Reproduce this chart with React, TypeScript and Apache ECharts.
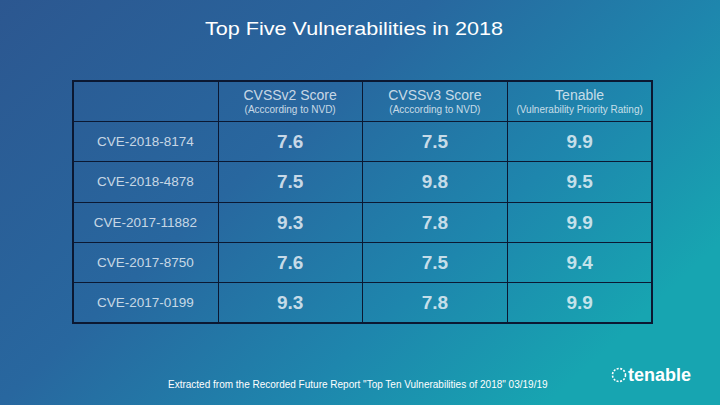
import React, { useEffect, useRef } from "react";
import * as echarts from "echarts";

const columnKeys = ["name", "v2", "v3", "vpr"];
const headerTitles = ["", "CVSSv2 Score", "CVSSv3 Score", "Tenable"];
const headerSubtitles = ["", "(Acccording to NVD)", "(Acccording to NVD)", "(Vulnerability Priority Rating)"];
const cves = ["CVE-2018-8174", "CVE-2018-4878", "CVE-2017-11882", "CVE-2017-8750", "CVE-2017-0199"];
const cvssV2 = [7.6, 7.5, 9.3, 7.6, 9.3];
const cvssV3 = [7.5, 9.8, 7.8, 7.5, 7.8];
const tenableVpr = [9.9, 9.5, 9.9, 9.4, 9.9];

const titleText = "Top Five Vulnerabilities in 2018";
const footerText = 'Extracted from the Recorded Future Report "Top Ten Vulnerabilities of 2018" 03/19/19';
const logoText = "tenable";

const FONT = "'Liberation Sans', Arial, sans-serif";
const LINE = "#0b1832";

export default function App() {
  const ref = useRef<HTMLDivElement>(null);
  useEffect(() => {
    if (!ref.current) return;
    const chart = echarts.init(ref.current, undefined, { renderer: "svg" });
    const rows = ["header", ...cves];

    const headerData = headerTitles
      .map((t, c) => ({ value: [columnKeys[c], "header"], name: t, sub: headerSubtitles[c] }))
      .filter((d) => d.name !== "");
    const nameData = cves.map((n) => ({ value: [columnKeys[0], n], name: n }));
    const valueData: any[] = [];
    [cvssV2, cvssV3, tenableVpr].forEach((arr, ci) => {
      arr.forEach((v, ri) => {
        valueData.push({ value: [columnKeys[ci + 1], cves[ri]], name: v.toFixed(1) });
      });
    });

    const baseScatter = {
      type: "scatter",
      symbolSize: 1,
      itemStyle: { color: "rgba(0,0,0,0)" },
      silent: true,
    };

    chart.setOption({
      animation: false,
      graphic: [
        {
          type: "rect",
          z: -10,
          shape: { x: 0, y: 0, width: 720, height: 405 },
          style: {
            fill: new echarts.graphic.LinearGradient(0, 0, 1, 0.6, [
              { offset: 0, color: "#2c5790" },
              { offset: 0.44, color: "#28679f" },
              { offset: 0.74, color: "#1e86ad" },
              { offset: 1, color: "#17a5b1" },
            ]),
          },
        },
        {
          type: "text",
          x: 354,
          y: 29,
          scaleX: 1.2,
          style: {
            text: titleText,
            fontSize: 18,
            fontFamily: FONT,
            fill: "#ffffff",
            textAlign: "center",
            textVerticalAlign: "middle",
          },
        },
        {
          type: "text",
          x: 168,
          y: 384,
          style: {
            text: footerText,
            fontSize: 10,
            fontFamily: FONT,
            fill: "#ffffff",
            textAlign: "left",
            textVerticalAlign: "middle",
          },
        },
        {
          type: "circle",
          shape: { cx: 619, cy: 375, r: 6.5 },
          style: { fill: "none", stroke: "#ffffff", lineWidth: 1.6, lineDash: [2, 1.5] },
        },
        {
          type: "text",
          x: 628,
          y: 375,
          style: {
            text: logoText,
            fontSize: 18,
            fontWeight: "bold",
            fontFamily: FONT,
            fill: "#ffffff",
            textAlign: "left",
            textVerticalAlign: "middle",
          },
        },
      ],
      grid: {
        left: 73,
        right: 68,
        top: 81,
        bottom: 82,
        show: true,
        borderColor: LINE,
        borderWidth: 2,
        backgroundColor: "transparent",
      },
      xAxis: {
        type: "category",
        data: columnKeys,
        boundaryGap: true,
        axisLine: { show: false },
        axisTick: { show: false },
        axisLabel: { show: false },
        splitLine: { show: true, interval: 0, lineStyle: { color: LINE, width: 1 } },
      },
      yAxis: {
        type: "category",
        data: rows,
        inverse: true,
        boundaryGap: true,
        axisLine: { show: false },
        axisTick: { show: false },
        axisLabel: { show: false },
        splitLine: { show: true, interval: 0, lineStyle: { color: LINE, width: 1 } },
      },
      series: [
        {
          ...baseScatter,
          data: headerData,
          label: {
            show: true,
            position: "inside",
            formatter: (p: any) => `{a|${p.data.name}}\n{b|${p.data.sub}}`,
            rich: {
              a: { fontSize: 14, lineHeight: 17, color: "#f2f6fa", fontFamily: FONT, align: "center" },
              b: { fontSize: 10, lineHeight: 13, color: "#f2f6fa", fontFamily: FONT, align: "center" },
            },
          },
        },
        {
          ...baseScatter,
          data: nameData,
          label: {
            show: true,
            position: "inside",
            formatter: (p: any) => p.data.name,
            fontSize: 13.5,
            color: "#f2f6fa",
            fontFamily: FONT,
          },
        },
        {
          ...baseScatter,
          data: valueData,
          label: {
            show: true,
            position: "inside",
            formatter: (p: any) => p.data.name,
            fontSize: 19,
            fontWeight: "bold",
            color: "#f4f7fb",
            fontFamily: FONT,
          },
        },
      ],
    });
    return () => chart.dispose();
  }, []);

  return (
    <div
      ref={ref}
      style={{ position: "absolute", left: 0, top: 0, width: 720, height: 405 }}
    />
  );
}
